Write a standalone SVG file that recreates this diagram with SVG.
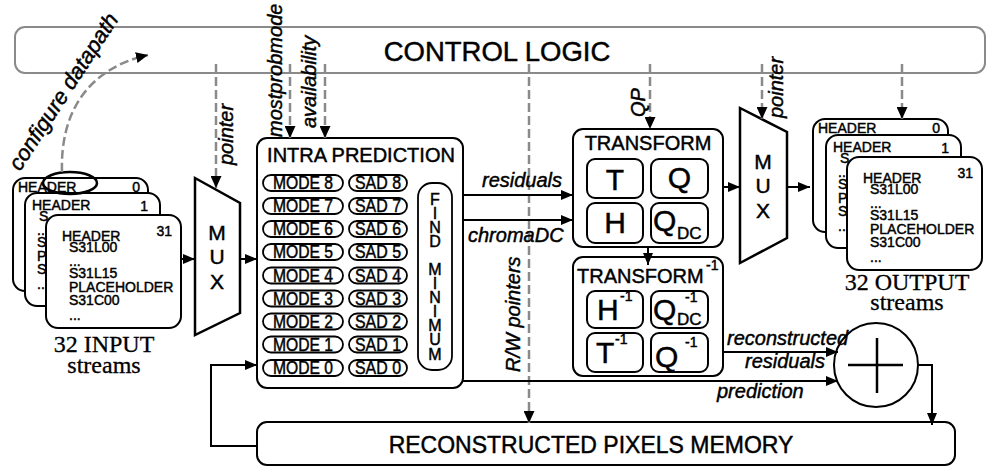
<svg xmlns="http://www.w3.org/2000/svg" width="991" height="466" viewBox="0 0 991 466">
<style>
.box{fill:#fff;stroke:#000;stroke-width:2}
.pill{fill:#fff;stroke:#000;stroke-width:1.8}
.card{fill:#fff;stroke:#000;stroke-width:2}
.ctl{fill:#fff;stroke:#8a8a8a;stroke-width:2}
.mux{fill:#fff;stroke:#000;stroke-width:2.5;stroke-linejoin:miter}
.wire{fill:none;stroke:#000;stroke-width:2}
.dash{fill:none;stroke:#8a8a8a;stroke-width:2.5;stroke-dasharray:9 4}
text{font-family:'Liberation Sans',Arial,sans-serif;fill:#000;stroke:#000;stroke-width:0.45}
.lbl{font-style:italic;font-size:20px}
.cfg{font-style:italic;font-size:22px}
.c14{font-size:14px}
.pt{font-size:17.5px;text-anchor:middle}
.big{font-size:30px}
.sup{font-size:14px}
.sub{font-size:17px}
.mx{font-size:21px;text-anchor:middle}
.ser{font-family:'Liberation Serif','Times New Roman',serif;font-size:24px;text-anchor:middle;stroke-width:0.3}
.fm{font-size:16px;text-anchor:middle}
</style>
<defs>
<marker id="ah" markerUnits="userSpaceOnUse" markerWidth="12" markerHeight="10" refX="12" refY="5" orient="auto"><path d="M0,0 L12,5 L0,10 z" fill="#000"/></marker>
<marker id="ahd" markerUnits="userSpaceOnUse" markerWidth="12" markerHeight="11" refX="12" refY="5.5" orient="auto"><path d="M0,0 L12,5.5 L0,11 z" fill="#000"/></marker>
</defs>

<g id="control-logic">
<rect class="ctl" x="15" y="27" width="970" height="46" rx="10"/>
<text x="497" y="61" font-size="27.5" text-anchor="middle">CONTROL LOGIC</text>
</g>

<g id="memory">
<rect class="box" x="257" y="422" width="698" height="43" rx="10"/>
<text x="591" y="453" font-size="23" text-anchor="middle">RECONSTRUCTED PIXELS MEMORY</text>
</g>

<g id="input-streams">
<rect class="card" x="13" y="178" width="135" height="113" rx="12"/>
<text class="c14" x="18" y="192">HEADER</text>
<text class="c14" x="140" y="192" text-anchor="end">0</text>
<rect class="card" x="25" y="193" width="135" height="113" rx="12"/>
<text class="c14" x="32" y="210">HEADER</text>
<text class="c14" x="148" y="211" text-anchor="end">1</text>
<text class="c14" x="39" y="221">S</text>
<text class="c14" x="37" y="235">..</text>
<text class="c14" x="37" y="246.5">S</text>
<text class="c14" x="37" y="260.5">P</text>
<text class="c14" x="37" y="274">S</text>
<text class="c14" x="37" y="289">..</text>
<rect class="card" x="46" y="215" width="135" height="113" rx="12"/>
<text class="c14" x="62" y="241">HEADER</text>
<text class="c14" x="172" y="236" text-anchor="end">31</text>
<text class="c14" x="69" y="252">S31L00</text>
<text class="c14" x="69" y="266">...</text>
<text class="c14" x="69" y="277.5">S31L15</text>
<text class="c14" x="69" y="291.5">PLACEHOLDER</text>
<text class="c14" x="69" y="305">S31C00</text>
<text class="c14" x="69" y="320">...</text>
<ellipse cx="70" cy="183" rx="27" ry="11" fill="none" stroke="#000" stroke-width="2.5"/>
<text class="ser" x="104" y="352">32 INPUT</text>
<text class="ser" x="104" y="373">streams</text>
</g>

<g id="input-mux">
<polygon class="mux" points="195,178 240,203 240,313 195,335"/>
<text class="mx" x="217" y="240">M</text>
<text class="mx" x="217" y="264">U</text>
<text class="mx" x="217" y="289">X</text>
</g>

<g id="intra-prediction">
<rect class="box" x="257" y="138" width="206" height="250" rx="10"/>
<text x="361" y="162" font-size="20" text-anchor="middle">INTRA PREDICTION</text>
<rect class="pill" x="263" y="175" width="80" height="16" rx="8"/><text class="pt" x="303" y="189" textLength="60" lengthAdjust="spacingAndGlyphs">MODE 8</text>
<rect class="pill" x="349" y="175" width="58" height="16" rx="8"/><text class="pt" x="378" y="189" textLength="46" lengthAdjust="spacingAndGlyphs">SAD 8</text>
<rect class="pill" x="263" y="198" width="80" height="16" rx="8"/><text class="pt" x="303" y="212" textLength="60" lengthAdjust="spacingAndGlyphs">MODE 7</text>
<rect class="pill" x="349" y="198" width="58" height="16" rx="8"/><text class="pt" x="378" y="212" textLength="46" lengthAdjust="spacingAndGlyphs">SAD 7</text>
<rect class="pill" x="263" y="221" width="80" height="16" rx="8"/><text class="pt" x="303" y="235" textLength="60" lengthAdjust="spacingAndGlyphs">MODE 6</text>
<rect class="pill" x="349" y="221" width="58" height="16" rx="8"/><text class="pt" x="378" y="235" textLength="46" lengthAdjust="spacingAndGlyphs">SAD 6</text>
<rect class="pill" x="263" y="244" width="80" height="16" rx="8"/><text class="pt" x="303" y="258" textLength="60" lengthAdjust="spacingAndGlyphs">MODE 5</text>
<rect class="pill" x="349" y="244" width="58" height="16" rx="8"/><text class="pt" x="378" y="258" textLength="46" lengthAdjust="spacingAndGlyphs">SAD 5</text>
<rect class="pill" x="263" y="267.5" width="80" height="16" rx="8"/><text class="pt" x="303" y="281.5" textLength="60" lengthAdjust="spacingAndGlyphs">MODE 4</text>
<rect class="pill" x="349" y="267.5" width="58" height="16" rx="8"/><text class="pt" x="378" y="281.5" textLength="46" lengthAdjust="spacingAndGlyphs">SAD 4</text>
<rect class="pill" x="263" y="290.5" width="80" height="16" rx="8"/><text class="pt" x="303" y="304.5" textLength="60" lengthAdjust="spacingAndGlyphs">MODE 3</text>
<rect class="pill" x="349" y="290.5" width="58" height="16" rx="8"/><text class="pt" x="378" y="304.5" textLength="46" lengthAdjust="spacingAndGlyphs">SAD 3</text>
<rect class="pill" x="263" y="313.5" width="80" height="16" rx="8"/><text class="pt" x="303" y="327.5" textLength="60" lengthAdjust="spacingAndGlyphs">MODE 2</text>
<rect class="pill" x="349" y="313.5" width="58" height="16" rx="8"/><text class="pt" x="378" y="327.5" textLength="46" lengthAdjust="spacingAndGlyphs">SAD 2</text>
<rect class="pill" x="263" y="336.5" width="80" height="16" rx="8"/><text class="pt" x="303" y="350.5" textLength="60" lengthAdjust="spacingAndGlyphs">MODE 1</text>
<rect class="pill" x="349" y="336.5" width="58" height="16" rx="8"/><text class="pt" x="378" y="350.5" textLength="46" lengthAdjust="spacingAndGlyphs">SAD 1</text>
<rect class="pill" x="263" y="360" width="80" height="16" rx="8"/><text class="pt" x="303" y="374" textLength="60" lengthAdjust="spacingAndGlyphs">MODE 0</text>
<rect class="pill" x="349" y="360" width="58" height="16" rx="8"/><text class="pt" x="378" y="374" textLength="46" lengthAdjust="spacingAndGlyphs">SAD 0</text>
<rect class="pill" x="418" y="183" width="34" height="187" rx="14"/>
<text class="fm" x="435" y="205">F</text>
<text class="fm" x="435" y="219">I</text>
<text class="fm" x="435" y="233">N</text>
<text class="fm" x="435" y="247">D</text>
<text class="fm" x="435" y="275">M</text>
<text class="fm" x="435" y="289">I</text>
<text class="fm" x="435" y="303">N</text>
<text class="fm" x="435" y="317">I</text>
<text class="fm" x="435" y="331">M</text>
<text class="fm" x="435" y="345">U</text>
<text class="fm" x="435" y="360">M</text>
</g>

<g id="transform">
<rect class="box" x="573" y="129" width="150" height="118" rx="10"/>
<text x="648" y="150" font-size="20" text-anchor="middle">TRANSFORM</text>
<rect class="box" x="587" y="159" width="56" height="39" rx="8"/>
<rect class="box" x="651" y="159" width="57" height="39" rx="8"/>
<rect class="box" x="587" y="203" width="56" height="40" rx="8"/>
<rect class="box" x="651" y="203" width="57" height="40" rx="8"/>
<text class="big" x="615" y="190" text-anchor="middle">T</text>
<text class="big" x="679.5" y="188" text-anchor="middle">Q</text>
<text class="big" x="615" y="233" text-anchor="middle">H</text>
<text class="big" x="653" y="231">Q</text>
<text class="sub" x="677" y="239">DC</text>
</g>

<g id="inverse-transform">
<rect class="box" x="573" y="257" width="150" height="119" rx="10"/>
<text x="577" y="283" font-size="20">TRANSFORM</text>
<text class="sup" x="706" y="270">-1</text>
<rect class="box" x="587" y="291" width="56" height="37" rx="8"/>
<rect class="box" x="651" y="291" width="57" height="37" rx="8"/>
<rect class="box" x="587" y="333" width="56" height="39" rx="8"/>
<rect class="box" x="651" y="333" width="57" height="39" rx="8"/>
<text class="big" x="597" y="320">H</text>
<text class="sup" x="620" y="301">-1</text>
<text class="big" x="653" y="320">Q</text>
<text class="sup" x="685" y="302">-1</text>
<text class="sub" x="677" y="325">DC</text>
<text class="big" x="596" y="363">T</text>
<text class="sup" x="615" y="344">-1</text>
<text class="big" x="655" y="367">Q</text>
<text class="sup" x="685" y="347">-1</text>
</g>

<g id="output-mux">
<polygon class="mux" points="740,108 787,132 787,238 740,263"/>
<text class="mx" x="763" y="169">M</text>
<text class="mx" x="763" y="193">U</text>
<text class="mx" x="763" y="218">X</text>
</g>

<g id="output-streams">
<rect class="card" x="813" y="119" width="135" height="113" rx="12"/>
<text class="c14" x="818" y="133">HEADER</text>
<text class="c14" x="940" y="133" text-anchor="end">0</text>
<rect class="card" x="826" y="135" width="135" height="113" rx="12"/>
<text class="c14" x="833" y="152">HEADER</text>
<text class="c14" x="949" y="153" text-anchor="end">1</text>
<text class="c14" x="840" y="163">S</text>
<text class="c14" x="838" y="177">..</text>
<text class="c14" x="838" y="188.5">S</text>
<text class="c14" x="838" y="202.5">P</text>
<text class="c14" x="838" y="216">S</text>
<text class="c14" x="838" y="231">..</text>
<rect class="card" x="847" y="157" width="135" height="113" rx="12"/>
<text class="c14" x="863" y="183">HEADER</text>
<text class="c14" x="973" y="178" text-anchor="end">31</text>
<text class="c14" x="870" y="194">S31L00</text>
<text class="c14" x="870" y="208">...</text>
<text class="c14" x="870" y="219.5">S31L15</text>
<text class="c14" x="870" y="233.5">PLACEHOLDER</text>
<text class="c14" x="870" y="247">S31C00</text>
<text class="c14" x="870" y="262">...</text>
<text class="ser" x="907" y="290">32 OUTPUT</text>
<text class="ser" x="907" y="310">streams</text>
</g>

<g id="adder">
<circle cx="876" cy="365" r="42" fill="#fff" stroke="#000" stroke-width="2"/>
<path d="M848,365 L903,365 M877,338 L877,393" stroke="#000" stroke-width="2.5" fill="none"/>
</g>

<g id="connectors">
<path class="dash" d="M62,172 C60,110 90,68 148,55" marker-end="url(#ahd)"/>
<path class="dash" d="M216,64 L216,188" marker-end="url(#ahd)"/>
<path class="dash" d="M290,64 L290,138" marker-end="url(#ahd)"/>
<path class="dash" d="M325,64 L325,138" marker-end="url(#ahd)"/>
<path class="dash" d="M529,64 L529,423" marker-end="url(#ahd)"/>
<path class="dash" d="M650,64 L650,129" marker-end="url(#ahd)"/>
<path class="dash" d="M762,64 L762,119" marker-end="url(#ahd)"/>
<path class="dash" d="M902,64 L902,119" marker-end="url(#ahd)"/>
<path class="wire" d="M181,259 L195,259" marker-end="url(#ah)"/>
<path class="wire" d="M240,259 L257,259" marker-end="url(#ah)"/>
<path class="wire" d="M463,195 L573,195" marker-end="url(#ah)"/>
<path class="wire" d="M463,220 L573,220" marker-end="url(#ah)"/>
<path class="wire" d="M723,187 L740,187" marker-end="url(#ah)"/>
<path class="wire" d="M787,187 L810,187" marker-end="url(#ah)"/>
<path class="wire" d="M648,247 L648,265" marker-end="url(#ah)"/>
<path class="wire" d="M723,352 L838,352" marker-end="url(#ah)"/>
<path class="wire" d="M463,381 L838,381" marker-end="url(#ah)"/>
<path class="wire" d="M918,365 L932,365 L932,425" marker-end="url(#ah)"/>
<path class="wire" d="M257,446 L211,446 L211,365 L257,365" marker-end="url(#ah)"/>
<text class="cfg" transform="translate(20,172) rotate(-57)">configure datapath</text>
<text class="lbl" transform="translate(233,165) rotate(-90)">pointer</text>
<text class="lbl" transform="translate(282,137) rotate(-90)">mostprobmode</text>
<text class="lbl" transform="translate(316,128) rotate(-90)">availability</text>
<text class="lbl" transform="translate(520,372) rotate(-90)">R/W pointers</text>
<text class="lbl" transform="translate(645,117) rotate(-90)">QP</text>
<text class="lbl" transform="translate(783,118) rotate(-90)">pointer</text>
<text class="lbl" x="482" y="187">residuals</text>
<text class="lbl" x="468" y="242">chromaDC</text>
<text class="lbl" x="727" y="345">reconstructed</text>
<text class="lbl" x="745" y="368">residuals</text>
<text class="lbl" x="717" y="398">prediction</text>
</g>
</svg>
